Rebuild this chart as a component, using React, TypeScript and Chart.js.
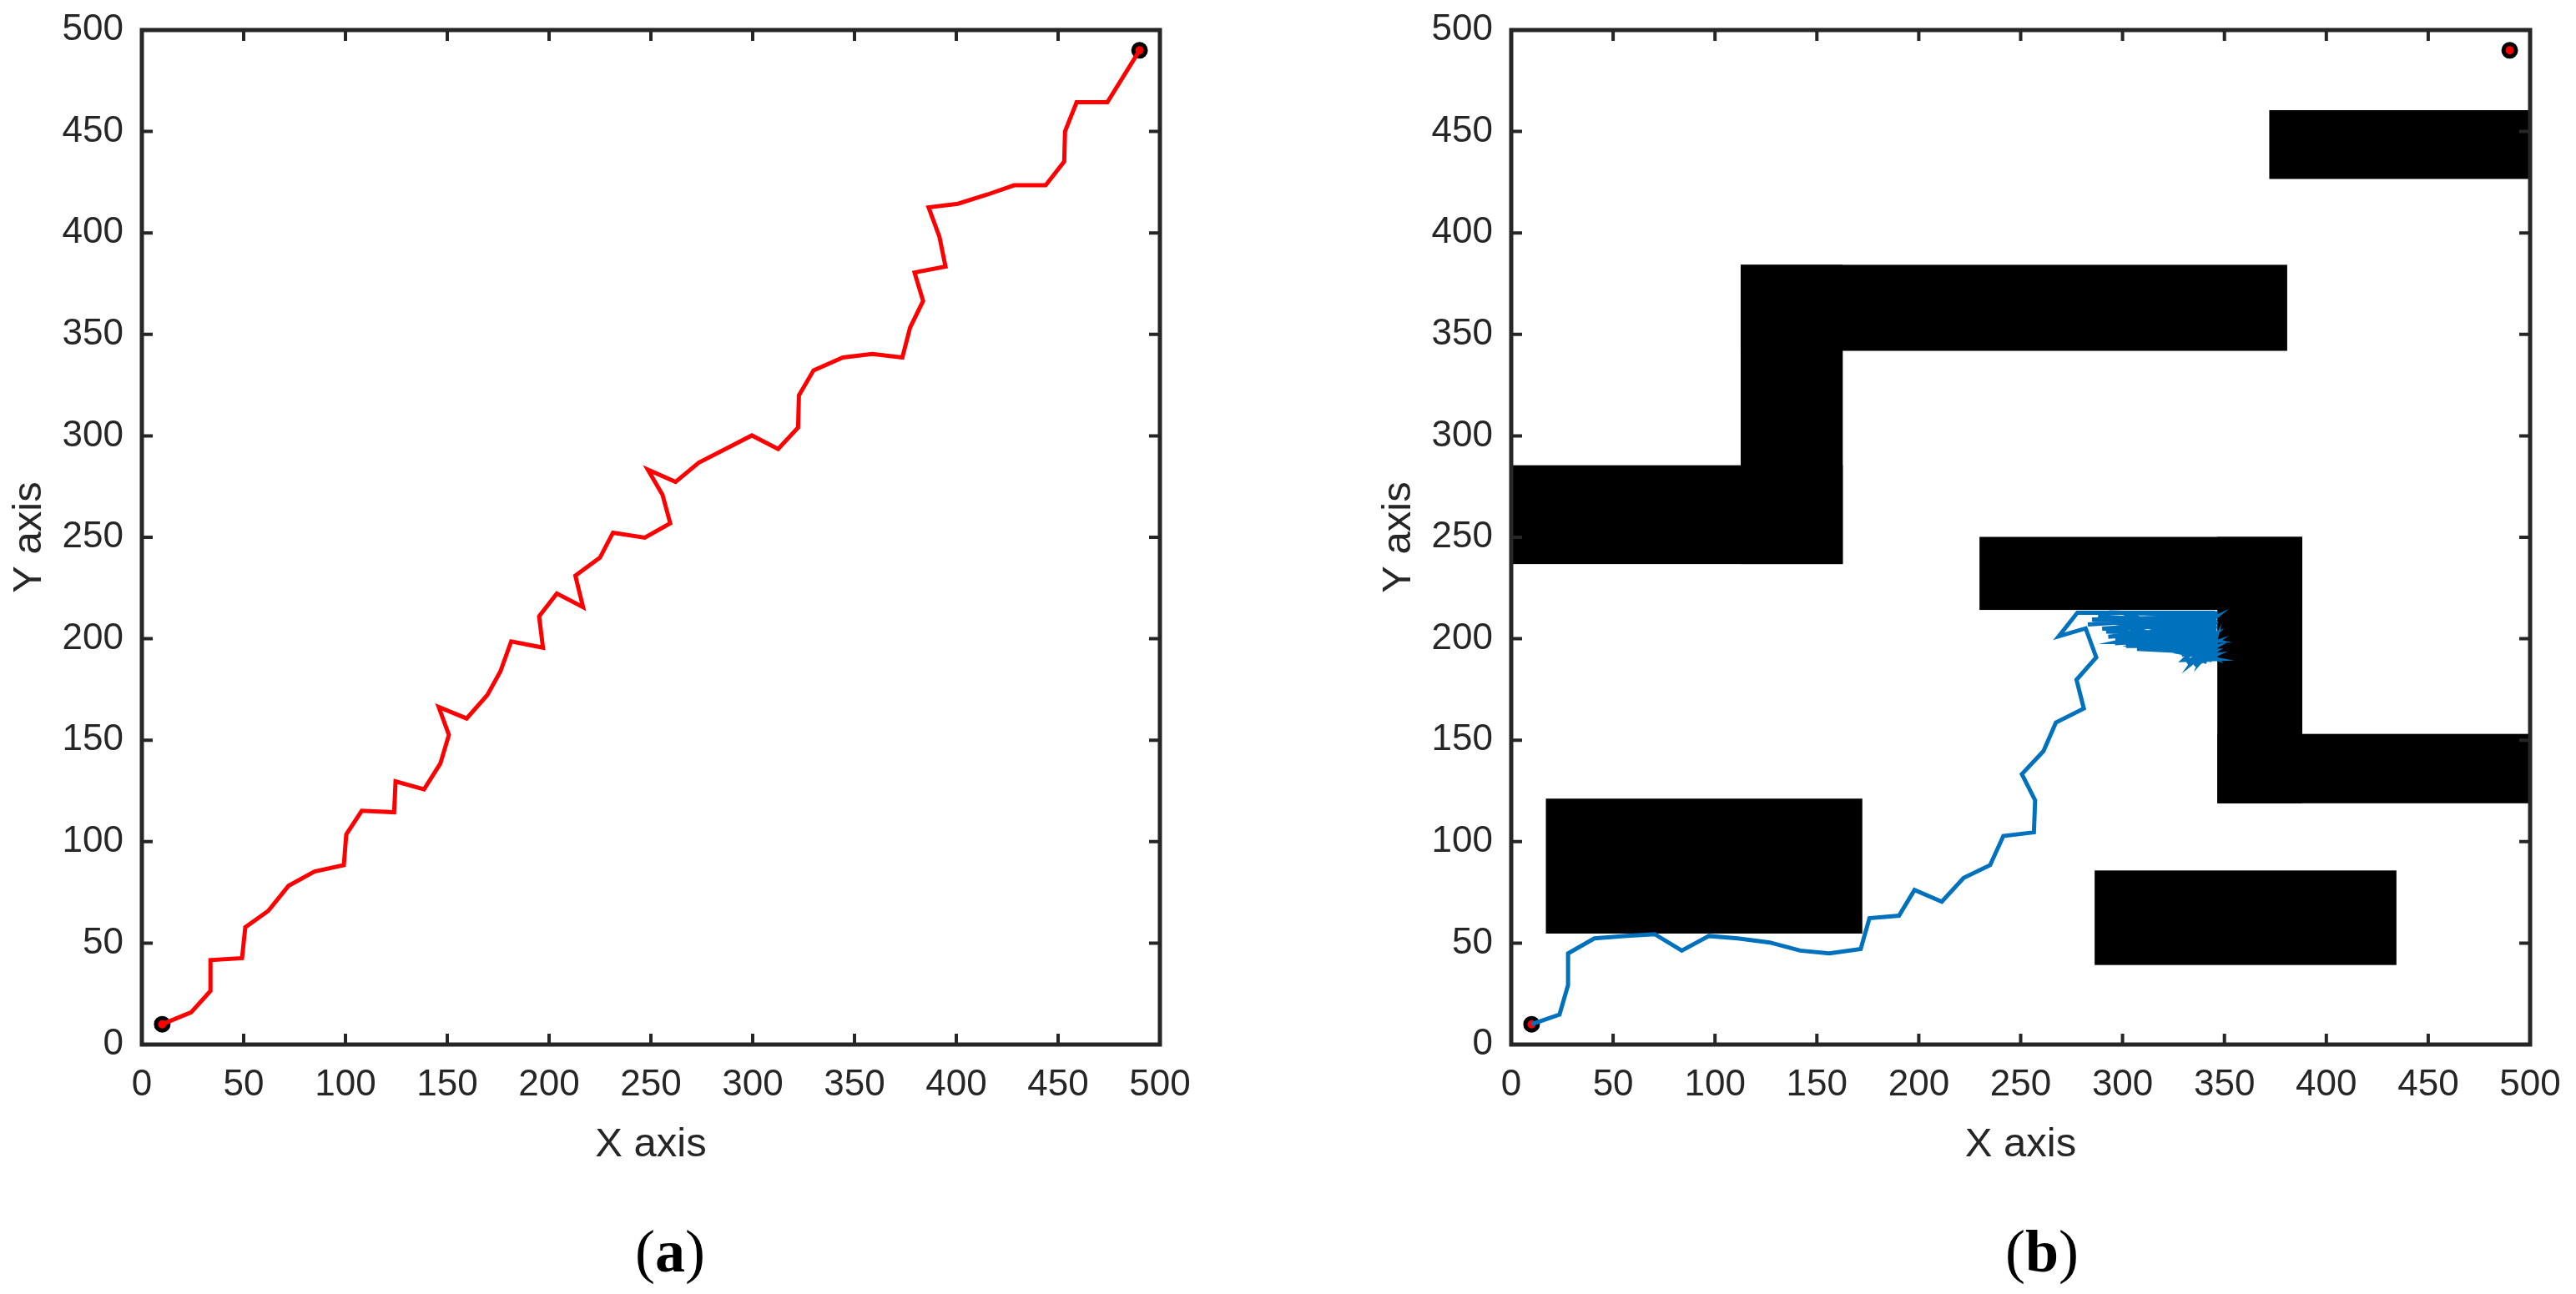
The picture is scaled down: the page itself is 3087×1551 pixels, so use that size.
import React, { useEffect, useRef } from "react";
import { Chart, registerables } from "chart.js";

Chart.register(...registerables);

// ---------- data ----------
const tickValues = [0, 50, 100, 150, 200, 250, 300, 350, 400, 450, 500];
const axisMin = 0;
const axisMax = 500;
const xAxisTitle = "X axis";
const yAxisTitle = "Y axis";
const panelLetters = ["a", "b"];

const startGoalX = [10, 490];
const startGoalY = [10, 490];

// (a) path in free space
const redPathX = [10, 24.2, 33.7, 33.7, 49.2, 50.8, 62.1, 72.0, 84.8, 99.2, 100.4, 108.0, 123.9, 124.6, 138.6, 146.6, 150.8, 145.8, 159.5, 169.7, 176.1, 181.4, 197.0, 195.1, 203.8, 216.7, 212.9, 225.0, 231.4, 247.0, 259.5, 255.7, 248.5, 262.1, 273.5, 299.6, 312.5, 322.3, 322.7, 329.9, 344.3, 358.7, 373.5, 377.3, 383.7, 379.5, 394.7, 391.7, 386.4, 400.8, 415.5, 428.4, 443.9, 453.0, 453.4, 459.1, 474.2, 490];
const redPathY = [10, 15.9, 26.4, 41.6, 42.6, 57.8, 65.9, 78.2, 85.3, 88.4, 103.6, 115.2, 114.5, 129.7, 125.8, 138.5, 152.6, 166.3, 160.7, 172.3, 183.9, 198.7, 195.6, 211.1, 222.3, 215.6, 231.1, 240.0, 252.3, 249.8, 256.9, 271.0, 283.3, 277.3, 286.8, 300.2, 293.5, 304.1, 319.9, 332.3, 338.6, 340.4, 338.6, 353.4, 366.5, 380.5, 383.4, 398.2, 412.6, 414.4, 419.0, 423.5, 423.5, 435.2, 450.0, 464.4, 464.4, 490];

// (b) path among obstacles: approach, then oscillation below the middle obstacle
const bluePathX = [10, 23.7, 27.9, 27.9, 40.8, 55.4, 70.4, 83.7, 97.0, 111.2, 126.9, 141.8, 156.1, 171.5, 175.8, 190.3, 197.9, 211.3, 222.0, 235.0, 241.5, 256.5, 257.1, 250.6, 261.2, 267.3, 281.0, 277.4, 287.1, 281.9, 268.7, 277.8,
  345.5, 283, 345.5, 285, 345.5, 290, 345.5, 293, 345.5, 296.5, 345.5, 296.3, 345.5, 299, 345.5, 301.7, 345.5, 304, 345.5, 307.1, 345.5, 310, 345.5, 312, 345.5, 315.3, 345.5, 318, 345.5, 320.8, 345.5, 323, 345.5, 326.2, 345.5, 329, 345.5, 331.6, 345.5, 333, 345.5, 335.1, 345.5, 337, 345.5, 339.1, 345.5, 341, 345.5, 342.5, 345.5, 344, 345.5, 345.3,
  345.5, 300, 345.5, 305, 345.5, 309, 345.5, 313, 345.5, 317, 345.5, 321, 345.5, 325, 345.5, 328, 345.5, 332, 345.5, 336, 345.5, 340, 345.5, 288, 345.5, 295, 345.5, 303, 345.5,
  298, 345.5, 306, 345.5, 314, 345.5, 319, 345.5, 324, 345.5, 327, 345.5, 330, 345.5, 334, 345.5, 338, 345.5, 340, 345.5, 343, 345.5, 292, 345.5];
const bluePathY = [10, 14.8, 29.3, 44.9, 52.3, 53.5, 54.4, 46.3, 53.5, 52.3, 50.3, 46.3, 44.9, 47.1, 62.3, 63.5, 76.2, 70.4, 82.1, 88.4, 102.8, 104.6, 120.4, 133.3, 144.6, 158.7, 165.6, 179.8, 190.8, 205.1, 201.2, 212.8,
  212.8, 207, 211, 209.5, 209, 205, 207, 201, 205, 199.5, 203, 197.8, 201, 203, 199, 196.4, 197, 200, 195, 195, 193, 199, 212, 196, 210, 194.4, 208, 198, 206, 195, 204, 197, 202, 194.6, 200, 192, 198, 188.1, 196, 193, 194, 187.1, 192, 191, 212.5, 189.5, 209.5, 192, 206.5, 188.6, 203.5, 190, 200.5, 190.9,
  197.5, 212.8, 211.5, 205, 194.5, 202, 208.5, 200, 199.5, 203, 205.5, 199, 191.5, 201, 210.5, 196, 196.5, 198, 202.5, 194, 190.5, 196, 207.5, 211, 201.5, 208, 212, 209, 199,
  198.5, 209, 197, 195.5, 196, 206, 194.8, 193, 196.5, 211, 193.5, 190, 189.5, 204, 188, 197, 188.5, 208, 188, 199, 189, 212.5, 203.5, 202];

// obstacles of (b): rectangles [x1,x2] x [y1,y2]
const obstacleX1 = [372, 0, 112.6, 112.6, 229.8, 346.5, 346.5, 17.0, 286.3];
const obstacleX2 = [500, 162.7, 162.7, 380.8, 388.2, 388.2, 500, 172.3, 434.4];
const obstacleY1 = [426.6, 236.8, 236.8, 341.9, 214.2, 118.9, 118.9, 54.7, 39.2];
const obstacleY2 = [460.5, 285.5, 384.3, 384.3, 250.2, 250.2, 153.1, 121.2, 85.8];

// ---------- styling ----------
const INK = "#262626";
const SANS = "'Liberation Sans', Arial, Helvetica, sans-serif";

const toPoints = (xs: number[], ys: number[]) => xs.map((x, i) => ({ x, y: ys[i] }));

const framePlugin = {
  id: "matlabFrame",
  afterDatasetsDraw(chart: any) {
    const { ctx, chartArea, scales } = chart;
    const { left, top, right, bottom } = chartArea;
    const xs = scales.x;
    const ys = scales.y;
    ctx.save();
    ctx.strokeStyle = INK;
    ctx.lineWidth = 4;
    ctx.beginPath();
    xs.ticks.forEach((t: any) => {
      const px = xs.getPixelForValue(t.value);
      ctx.moveTo(px, bottom);
      ctx.lineTo(px, bottom - 13);
      ctx.moveTo(px, top);
      ctx.lineTo(px, top + 13);
    });
    ys.ticks.forEach((t: any) => {
      const py = ys.getPixelForValue(t.value);
      ctx.moveTo(left, py);
      ctx.lineTo(left + 13, py);
      ctx.moveTo(right, py);
      ctx.lineTo(right - 13, py);
    });
    ctx.stroke();
    ctx.lineWidth = 5;
    ctx.strokeRect(left, top, right - left, bottom - top);
    ctx.restore();
  },
};

const obstaclePlugin = {
  id: "obstacles",
  beforeDatasetsDraw(chart: any, _args: any, opts: any) {
    if (!opts || !opts.show) return;
    const { ctx, chartArea, scales } = chart;
    const xs = scales.x;
    const ys = scales.y;
    ctx.save();
    ctx.beginPath();
    ctx.rect(chartArea.left, chartArea.top, chartArea.right - chartArea.left, chartArea.bottom - chartArea.top);
    ctx.clip();
    ctx.fillStyle = "#000000";
    obstacleX1.forEach((x1, i) => {
      const px1 = xs.getPixelForValue(x1);
      const px2 = xs.getPixelForValue(obstacleX2[i]);
      const py1 = ys.getPixelForValue(obstacleY1[i]);
      const py2 = ys.getPixelForValue(obstacleY2[i]);
      ctx.fillRect(Math.min(px1, px2), Math.min(py1, py2), Math.abs(px2 - px1), Math.abs(py2 - py1));
    });
    ctx.restore();
  },
};

function Panel({ kind, left, width }: { kind: "a" | "b"; left: number; width: number }) {
  const ref = useRef<HTMLCanvasElement | null>(null);
  useEffect(() => {
    if (!ref.current) return;
    const areaRight = kind === "a" ? 1390 : 3032;
    const pathX = kind === "a" ? redPathX : bluePathX;
    const pathY = kind === "a" ? redPathY : bluePathY;
    const pathColor = kind === "a" ? "#FF0000" : "#0072BD";
    const axisCommon = {
      type: "linear" as const,
      min: axisMin,
      max: axisMax,
      afterBuildTicks: (s: any) => {
        s.ticks = tickValues.map((v) => ({ value: v }));
      },
      grid: { display: false, drawTicks: false },
      border: { display: false },
    };
    const chart = new Chart(ref.current, {
      type: "scatter",
      data: {
        datasets: [
          {
            data: toPoints(pathX, pathY),
            showLine: true,
            borderColor: pathColor,
            borderWidth: 5,
            pointRadius: 0,
            pointHoverRadius: 0,
            tension: 0,
          } as any,
          {
            data: toPoints(startGoalX, startGoalY),
            showLine: false,
            pointRadius: 7.5,
            pointBackgroundColor: "#FF0000",
            pointBorderColor: "#000000",
            pointBorderWidth: 5,
          } as any,
        ],
      },
      options: {
        responsive: false,
        animation: false,
        devicePixelRatio: 1,
        layout: { padding: { top: 36, right: width - (areaRight - left), bottom: 8, left: 0 } },
        plugins: {
          legend: { display: false },
          tooltip: { enabled: false },
          obstacles: { show: kind === "b" },
        } as any,
        scales: {
          x: {
            ...axisCommon,
            position: "bottom",
            afterFit: (s: any) => {
              s.height = 150;
              s.paddingLeft = 0;
              s.paddingRight = 0;
            },
            ticks: {
              color: INK,
              font: { family: SANS, size: 44 },
              padding: 22,
              maxRotation: 0,
              autoSkip: false,
            },
            title: {
              display: true,
              text: xAxisTitle,
              color: INK,
              font: { family: SANS, size: 49 },
              padding: { top: 0, bottom: 0 },
            },
          },
          y: {
            ...axisCommon,
            position: "left",
            afterFit: (s: any) => {
              s.width = 170;
              s.paddingTop = 0;
              s.paddingBottom = 0;
            },
            ticks: {
              color: INK,
              font: { family: SANS, size: 44 },
              padding: 22,
              autoSkip: false,
            },
            title: {
              display: true,
              text: yAxisTitle,
              color: INK,
              font: { family: SANS, size: 49 },
              padding: { top: 6, bottom: 0 },
            },
          },
        } as any,
      },
      plugins: [obstaclePlugin as any, framePlugin as any],
    });
    return () => chart.destroy();
  }, [kind, left, width]);
  return (
    <canvas
      ref={ref}
      width={width}
      height={1410}
      style={{ position: "absolute", left, top: 0, width, height: 1410, display: "block" }}
    />
  );
}

function PanelLabel({ letter, cx }: { letter: string; cx: number }) {
  return (
    <div
      style={{
        position: "absolute",
        left: cx - 100,
        top: 1460,
        width: 200,
        textAlign: "center",
        fontFamily: "'Liberation Serif', 'Times New Roman', serif",
        fontSize: 72,
        lineHeight: "80px",
        color: "#000",
      }}
    >
      (<b>{letter}</b>)
    </div>
  );
}

export default function App() {
  return (
    <div style={{ position: "absolute", left: 0, top: 0, width: 3087, height: 1551, background: "#fff", overflow: "hidden" }}>
      <Panel kind="a" left={0} width={1500} />
      <Panel kind="b" left={1641} width={1440} />
      <PanelLabel letter={panelLetters[0]} cx={803} />
      <PanelLabel letter={panelLetters[1]} cx={2447} />
    </div>
  );
}
